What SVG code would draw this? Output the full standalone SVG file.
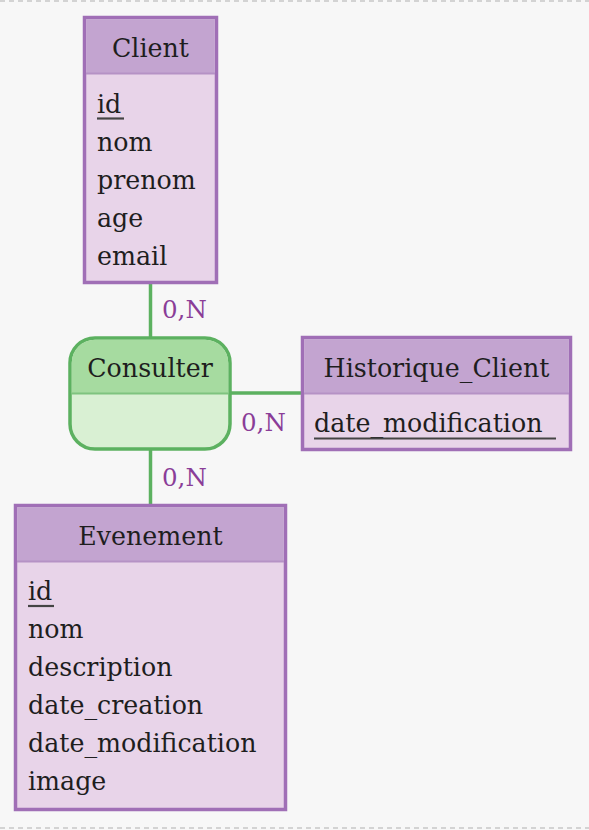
<svg xmlns="http://www.w3.org/2000/svg" width="589" height="830" viewBox="0 0 589 830">
<style>
.bg{fill:#f7f7f7}
.frame{stroke:#c8c8c8;stroke-width:1.5;stroke-dasharray:5 4;fill:none}
.ebox{fill:#e8d4e9;stroke:#a06fb6;stroke-width:3.5}
.ehead{fill:#c3a4d0}
.esep{stroke:#b592c5;stroke-width:2}
.abox{fill:#d9f0d3;stroke:#5cb160;stroke-width:3.5}
.ahead{fill:#a6dba0}
.asep{stroke:#7fc37f;stroke-width:2}
.link{stroke:#5cb160;stroke-width:3.5;fill:none}
text{font-family:"DejaVu Serif","Liberation Serif",serif;font-size:25.3px;fill:#1e1e1e}
.title{text-anchor:middle}
.card{fill:#8a3d98;font-size:24.5px}
.ul{stroke:#444;stroke-width:2.2}
</style>
<rect class="bg" x="0" y="0" width="589" height="830"/>
<line class="frame" x1="0" y1="1" x2="589" y2="1"/>
<line class="frame" x1="0" y1="828" x2="589" y2="828"/>
<g id="connectors">
<line class="link" x1="150.5" y1="284" x2="150.5" y2="338"/>
<line class="link" x1="150.5" y1="450" x2="150.5" y2="504"/>
<line class="link" x1="231" y1="393" x2="302" y2="393"/>
<text class="card" x="162" y="318">0,N</text>
<text class="card" x="241" y="431">0,N</text>
<text class="card" x="162" y="486">0,N</text>
</g>
<g id="Client">
<rect class="ebox" x="84.5" y="17.5" width="132" height="265"/>
<rect class="ehead" x="86.2" y="19.2" width="128.6" height="54"/>
<line class="esep" x1="86" y1="73.5" x2="215" y2="73.5"/>
<text class="title" x="150.5" y="57">Client</text>
<text x="97" y="113">id</text>
<line class="ul" x1="97" y1="118.5" x2="124" y2="118.5"/>
<text x="97" y="151">nom</text>
<text x="97" y="189">prenom</text>
<text x="97" y="227">age</text>
<text x="97" y="265">email</text>
</g>
<g id="Consulter">
<rect class="abox" x="70" y="338" width="160" height="111" rx="25" ry="25"/>
<path class="ahead" d="M71.7 393 V363 A23.3 23.3 0 0 1 95 339.7 H205 A23.3 23.3 0 0 1 228.3 363 V393 Z"/>
<line class="asep" x1="71.7" y1="393.5" x2="228.3" y2="393.5"/>
<text class="title" x="150" y="377">Consulter</text>
</g>
<g id="Historique_Client">
<rect class="ebox" x="302.5" y="337.5" width="268" height="112"/>
<rect class="ehead" x="304.2" y="339.2" width="264.6" height="54"/>
<line class="esep" x1="304" y1="393.5" x2="569" y2="393.5"/>
<text class="title" x="436.5" y="377">Historique_Client</text>
<text x="314" y="432">date_modification</text>
<line class="ul" x1="314" y1="438.5" x2="556" y2="438.5"/>
</g>
<g id="Evenement">
<rect class="ebox" x="15.5" y="505.5" width="270" height="304"/>
<rect class="ehead" x="17.2" y="507.2" width="266.6" height="54"/>
<line class="esep" x1="17" y1="561.5" x2="284" y2="561.5"/>
<text class="title" x="150.5" y="545">Evenement</text>
<text x="28" y="600">id</text>
<line class="ul" x1="28" y1="606" x2="54" y2="606"/>
<text x="28" y="638">nom</text>
<text x="28" y="676">description</text>
<text x="28" y="714">date_creation</text>
<text x="28" y="752">date_modification</text>
<text x="28" y="790">image</text>
</g>
</svg>
